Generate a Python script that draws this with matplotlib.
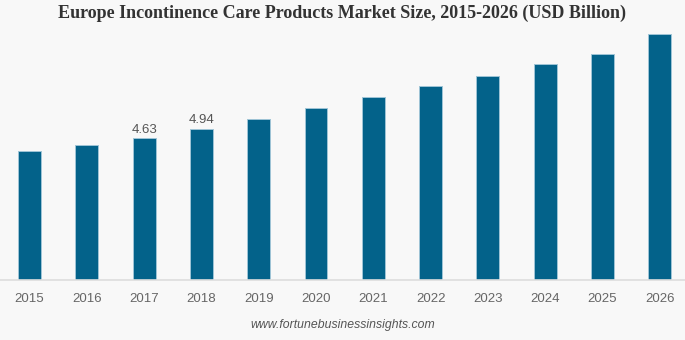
import matplotlib.pyplot as plt

years = ['2015', '2016', '2017', '2018', '2019', '2020',
         '2021', '2022', '2023', '2024', '2025', '2026']
values = [4.21, 4.40, 4.63, 4.94, 5.26, 5.61, 5.97, 6.32, 6.67, 7.04, 7.37, 8.03]
labelled = {'2017': '4.63', '2018': '4.94'}

bg = '#f8f8f8'
bar_color = '#03628a'

fig = plt.figure(figsize=(6.85, 3.4), dpi=100, facecolor=bg)
ax = fig.add_axes([0.0, 1 - 280 / 340, 1.0, 250 / 340], facecolor=bg)

x = range(len(years))
ax.bar(x, values, width=0.4, color=bar_color, edgecolor='#9fc4d6', linewidth=0.7, zorder=2)

for i, yr in enumerate(years):
    if yr in labelled:
        ax.text(i, values[i] + 0.08, labelled[yr], ha='center', va='bottom',
                fontsize=9.5, color='#555555', family='Liberation Sans')

ax.set_xlim(-0.515, 11.44)
ax.set_ylim(0, 8.16)
ax.set_xticks(list(x))
ax.set_xticklabels(years, fontsize=9.5, color='#666666', family='Liberation Sans')
ax.tick_params(axis='x', length=0, pad=9)
ax.set_yticks([])
for s in ['top', 'right', 'left']:
    ax.spines[s].set_visible(False)
ax.spines['bottom'].set_color('#dddddd')
ax.spines['bottom'].set_linewidth(1.2)

fig.text(0.5, 1 - 13 / 340, 'Europe Incontinence Care Products Market Size, 2015-2026 (USD Billion)',
         ha='center', va='center', fontsize=13, fontweight='bold',
         family='Liberation Serif', color='#333333')
fig.text(0.5, 1 - 325 / 340, 'www.fortunebusinessinsights.com', ha='center', va='center',
         fontsize=8.8, style='italic', color='#555555', family='Liberation Sans')

fig.savefig('out.png', dpi=100, facecolor=bg)
